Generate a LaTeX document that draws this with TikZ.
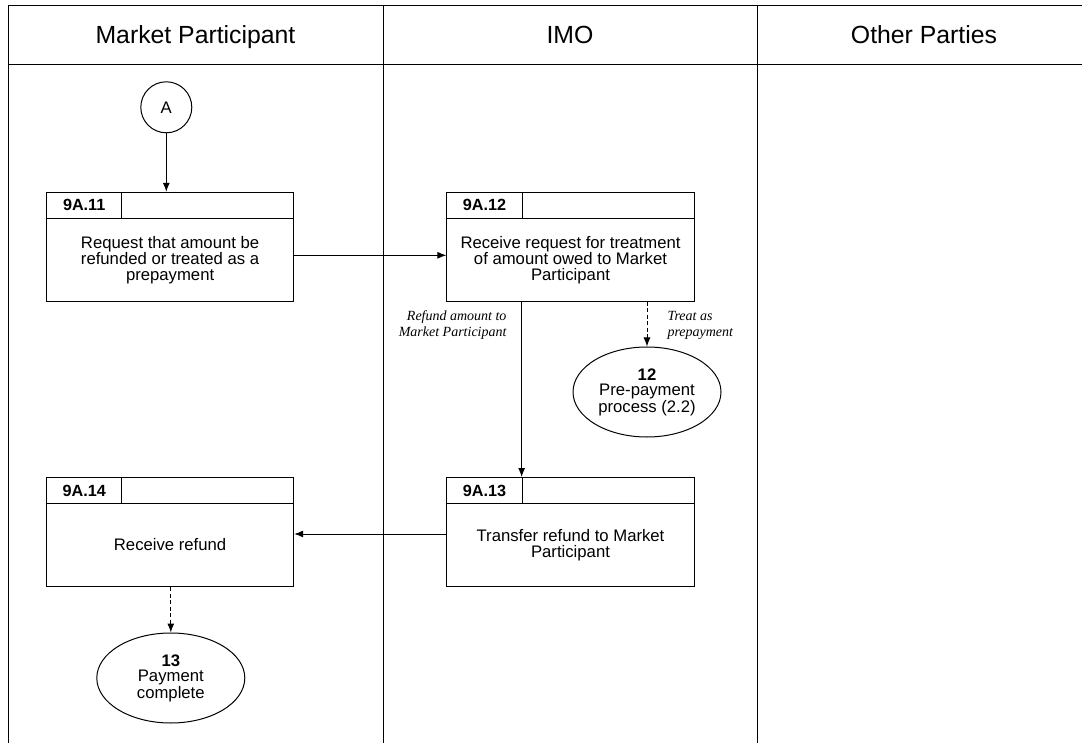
\documentclass[tikz,border=0pt]{standalone}
\usepackage{fontspec}
\setmainfont{Liberation Sans}
\newfontfamily\noteserif{Liberation Serif}
\usetikzlibrary{shapes.geometric,arrows.meta}

\begin{document}
\begin{tikzpicture}[x=1pt,y=-1pt,line width=1pt,>={Latex[length=9pt,width=7pt]},
    lane/.style={font=\fontsize{24.8}{28}\selectfont,anchor=base},
    stepno/.style={draw,minimum width=75.3pt,minimum height=26pt,inner sep=0pt,font=\fontsize{16.2}{18}\selectfont\bfseries},
    stepblank/.style={draw,minimum width=171.9pt,minimum height=26pt,inner sep=0pt},
    stepbody/.style={draw,minimum width=247.2pt,minimum height=83pt,inner sep=0pt,align=center},
    endproc/.style={draw,ellipse,minimum width=148pt,minimum height=90pt,inner sep=0pt,align=center},
    note/.style={font=\fontsize{14}{16}\selectfont\noteserif\itshape,inner sep=0pt},
    dashflow/.style={->,dash pattern=on 4pt off 2.5pt}]
          \tikzstyle{every node}=[font=\fontsize{16.7}{15.4}\selectfont]
          \useasboundingbox (0,0) rectangle (1082,743);
          % swimlanes
          \draw (8.3,743) -- (8.3,5.3) -- (1082,5.3);
          \draw (8.3,64.3) -- (1082,64.3);
          \draw (383,5.3) -- (383,743);
          \draw (757,5.3) -- (757,743);
            \node[lane] (mp) at (195.5,43.3) {Market Participant};
            \node[lane] (imo) at (570,43.3) {IMO};
            \node[lane] (op) at (924,43.3) {Other Parties};

            \node[draw,circle,minimum size=51pt,inner sep=0pt] (A) at (166.3,107.3) {A};

            \node[stepno] (s11no) at (84.2,205.3) {9A.11};
            \node[stepblank] (s11e) at (207.7,205.3) {};
            \node[stepbody] (s11) at (170.1,259.8) {Request that amount be\\refunded or treated as a\\prepayment};
            \node[stepno] (s12no) at (484.6,205.3) {9A.12};
            \node[stepblank] (s12e) at (608.1,205.3) {};
            \node[stepbody] (s12) at (570.5,259.8) {Receive request for treatment\\of amount owed to Market\\Participant};
            \node[stepno] (s14no) at (84.2,490.5) {9A.14};
            \node[stepblank] (s14e) at (207.7,490.5) {};
            \node[stepbody] (s14) at (170.1,545) {Receive refund};
            \node[stepno] (s13no) at (484.6,490.5) {9A.13};
            \node[stepblank] (s13e) at (608.1,490.5) {};
            \node[stepbody] (s13) at (570.5,545) {Transfer refund to Market\\Participant};

            \node[endproc] (e12) at (647,392) {\textbf{12}\\Pre-payment\\process (2.2)};
            \node[endproc] (e13) at (170.8,678) {\textbf{13}\\Payment\\complete};

            \node[note,anchor=east,align=right] (lrefund) at (507,325) {Refund amount to\\Market Participant};
            \node[note,anchor=west,align=left] (lprepay) at (667,325) {Treat as\\prepayment};

            \draw[->] (A) -- (A |- s11e.north);
            \draw[->] ([yshift=4.5pt]s11.east) -- ([yshift=4.5pt]s12.west);
            \draw[->] (s12.south -| s13e.west) -- (s13e.north west);
            \draw[dashflow] (e12.north |- s12.south) -- (e12.north);
            \draw[->] ([yshift=11pt]s13.west) -- ([yshift=11pt]s14.east);
            \draw[dashflow] (e13.north |- s14.south) -- (e13.north);
        \end{tikzpicture}
\end{document}
